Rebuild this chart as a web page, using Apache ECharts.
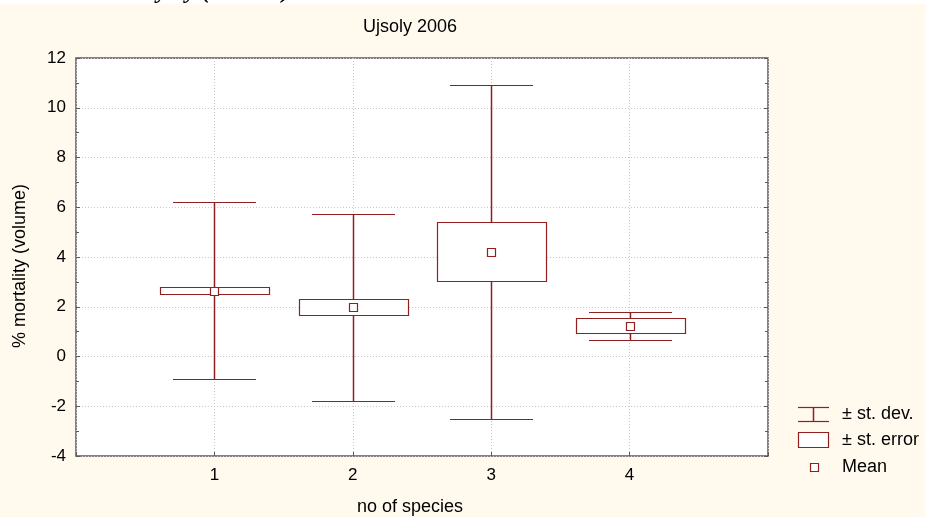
<!DOCTYPE html>
<html><head><meta charset="utf-8">
<script src="https://cdn.jsdelivr.net/npm/echarts@6/dist/echarts.min.js"></script>
<style>html,body{margin:0;padding:0;background:#fff9ee}#c{width:925px;height:517px}</style>
</head><body><div id="c"></div><script>
// ---- data ----
const categories = [1, 2, 3, 4];
const categoryLabels = ['1', '2', '3', '4'];
const means  = [2.65, 1.98, 4.22, 1.23];
const seLow  = [2.51, 1.66, 3.03, 0.93];
const seHigh = [2.79, 2.31, 5.42, 1.54];
const sdLow  = [-0.90, -1.78, -2.50, 0.65];
const sdHigh = [6.20, 5.72, 10.93, 1.79];
const yMin = -4, yMax = 12, yStep = 2;
const legendLabels = ['± st. dev.', '± st. error', 'Mean'];
const titleText = 'Ujsoly 2006';
const xName = 'no of species';
const yName = '% mortality (volume)';
const captionFragment = 'Mortality by (volume)';

const RED = '#921f1f';
const FONT = 'Liberation Sans, Arial, sans-serif';

const seriesData = categories.map((c, i) => [c, means[i], seLow[i], seHigh[i], sdLow[i], sdHigh[i]]);

const chart = echarts.init(document.getElementById('c'), null, {renderer: 'canvas'});

function renderItem(params, api) {
  const x = api.value(0);
  const unit = api.size([1, 0])[0];
  const boxHalf = unit * 0.395;
  const capHalf = unit * 0.30;
  const cx = Math.round(api.coord([x, 0])[0]) + 0.5;
  const py = v => Math.round(api.coord([x, v])[1]) + 0.5;
  const yMean = api.coord([x, api.value(1)])[1];
  const ySeL = py(api.value(2)), ySeH = py(api.value(3));
  const ySdL = py(api.value(4)), ySdH = py(api.value(5));
  const st = {stroke: RED, lineWidth: 1.2, fill: null};
  return {
    type: 'group',
    children: [
      {type: 'line', shape: {x1: cx, y1: ySdH, x2: cx, y2: ySdL}, style: {stroke: RED, lineWidth: 1.5}},
      {type: 'line', shape: {x1: Math.round(cx - capHalf), y1: ySdH, x2: Math.round(cx + capHalf), y2: ySdH}, style: st},
      {type: 'line', shape: {x1: Math.round(cx - capHalf), y1: ySdL, x2: Math.round(cx + capHalf), y2: ySdL}, style: st},
      {type: 'rect', shape: {x: Math.round(cx - boxHalf) + 0.5, y: ySeH, width: Math.round(boxHalf * 2), height: ySeL - ySeH},
        style: {stroke: RED, lineWidth: 1.2, fill: '#fff'}},
      {type: 'rect', shape: {x: cx - 4, y: Math.round(yMean) - 3.5, width: 8, height: 8},
        style: {stroke: RED, lineWidth: 1.2, fill: '#fff'}}
    ]
  };
}

const grid = {left: 76, top: 58, right: 157, bottom: 61, show: true, backgroundColor: '#fff', borderColor: '#5a5a5a', borderWidth: 1.5};
const tickStyle = {color: '#5a5a5a'};

const option = {
  backgroundColor: '#fff9ee',
  animation: false,
  grid: grid,
  xAxis: [{
    type: 'value', min: 0, max: 5, interval: 1, position: 'bottom',
    axisLine: {show: false, onZero: false},
    axisTick: {show: true, inside: true, length: 4, lineStyle: tickStyle},
    axisLabel: {show: true, margin: 11, color: '#000', fontSize: 17, fontFamily: FONT,
      formatter: v => { const i = categories.indexOf(v); return i >= 0 ? categoryLabels[i] : ''; }},
    splitLine: {show: true, lineStyle: {color: '#c8c8c8', type: [1, 2], width: 1}}
  }],
  yAxis: [{
    type: 'value', min: yMin, max: yMax, interval: yStep,
    axisLine: {show: false, onZero: false},
    axisTick: {show: true, inside: true, length: 4, lineStyle: tickStyle},
    minorTick: {show: true, splitNumber: 2, length: 3, lineStyle: tickStyle},
    axisLabel: {margin: 10, color: '#000', fontSize: 17, fontFamily: FONT},
    splitLine: {show: true, lineStyle: {color: '#c8c8c8', type: [1, 2], width: 1}}
  }, {
    type: 'value', min: yMin, max: yMax, interval: yStep, position: 'right',
    axisLine: {show: false, onZero: false},
    axisTick: {show: true, inside: true, length: 4, lineStyle: tickStyle},
    minorTick: {show: true, splitNumber: 2, length: 3, lineStyle: tickStyle},
    axisLabel: {show: false},
    splitLine: {show: false}
  }],
  series: [{
    type: 'custom',
    renderItem: renderItem,
    data: seriesData,
    encode: {x: 0, y: [1, 2, 3, 4, 5]},
    clip: false,
    z: 5
  }],
  graphic: [
    {type: 'rect', left: 0, top: 0, shape: {width: 925, height: 4}, style: {fill: '#fff'}, z: 1},
    {type: 'text', x: 290, y: 4, z: 2, style: {text: captionFragment, fontSize: 24, fontFamily: 'Liberation Serif, serif', fontStyle: 'italic', fontWeight: 'bold', fill: '#000', textAlign: 'right', textVerticalAlign: 'bottom'}},
    {type: 'rect', left: 0, top: 4, shape: {width: 925, height: 20}, style: {fill: '#fff9ee'}, z: 3},
    {type: 'text', x: 410, y: 27, style: {text: titleText, fontSize: 18, fontFamily: FONT, fill: '#000', textAlign: 'center', textVerticalAlign: 'middle'}, z: 4},
    {type: 'text', x: 410, y: 507, style: {text: xName, fontSize: 18, fontFamily: FONT, fill: '#000', textAlign: 'center', textVerticalAlign: 'middle'}},
    {type: 'text', x: 20, y: 266, rotation: Math.PI / 2, style: {text: yName, fontSize: 18, fontFamily: FONT, fill: '#000', textAlign: 'center', textVerticalAlign: 'middle'}},
    // legend symbols
    {type: 'line', shape: {x1: 798, y1: 407.5, x2: 829, y2: 407.5}, style: {stroke: RED, lineWidth: 1.2}},
    {type: 'line', shape: {x1: 798, y1: 421.5, x2: 829, y2: 421.5}, style: {stroke: RED, lineWidth: 1.2}},
    {type: 'line', shape: {x1: 813.5, y1: 407.5, x2: 813.5, y2: 421.5}, style: {stroke: RED, lineWidth: 1.5}},
    {type: 'rect', shape: {x: 798.5, y: 432.5, width: 30, height: 15}, style: {stroke: RED, lineWidth: 1.2, fill: '#fff'}},
    {type: 'rect', shape: {x: 810.5, y: 463.5, width: 8, height: 8}, style: {stroke: RED, lineWidth: 1.2, fill: '#fff'}},
    {type: 'text', x: 842, y: 414, style: {text: legendLabels[0], fontSize: 18, fontFamily: FONT, fill: '#000', textVerticalAlign: 'middle'}},
    {type: 'text', x: 842, y: 440, style: {text: legendLabels[1], fontSize: 18, fontFamily: FONT, fill: '#000', textVerticalAlign: 'middle'}},
    {type: 'text', x: 842, y: 467, style: {text: legendLabels[2], fontSize: 18, fontFamily: FONT, fill: '#000', textVerticalAlign: 'middle'}}
  ]
};
chart.setOption(option);
</script></body></html>
